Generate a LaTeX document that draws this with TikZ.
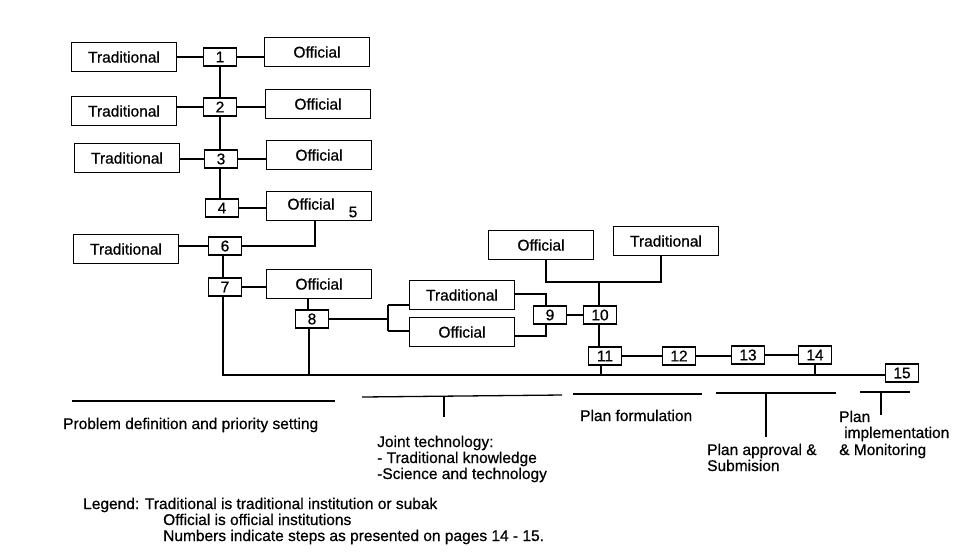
\documentclass[tikz,border=0pt]{standalone}
\usepackage{fontspec}
\setmainfont[FakeBold=0.7]{Liberation Sans}
\begin{document}
\begin{tikzpicture}[x=1pt,y=-1pt,
  inst/.style={draw, line width=1.3pt, minimum width=105pt, minimum height=29pt, inner sep=0pt, font=\fontsize{15.5}{16}\selectfont},
  num/.style={draw, line width=1.3pt, minimum width=33pt, minimum height=18pt, inner sep=0pt, font=\fontsize{15.5}{16}\selectfont},
  lbl/.style={inner sep=0pt, font=\fontsize{15.5}{16}\selectfont, align=left},
  conn/.style={line width=1.3pt},
  phase/.style={line width=1.3pt}]
\useasboundingbox (0,0) rectangle (971,558);
% institution boxes
\node[inst] (T1) at (124,57) {Traditional};
\node[inst] (O1) at (317,52) {Official};
\node[inst] (T2) at (124,111) {Traditional};
\node[inst] (O2) at (318,104) {Official};
\node[inst] (T3) at (127,158) {Traditional};
\node[inst] (O3) at (319,155) {Official};
\node[inst] (O4) at (319,206) {};
\node[lbl] (O4t) at (311,204) {Official};
\node[lbl] (s5) at (353,212) {5};
\node[inst] (T6) at (126,249) {Traditional};
\node[inst] (O7) at (319,284) {Official};
\node[inst] (T9) at (462,295) {Traditional};
\node[inst] (O9) at (462,332) {Official};
\node[inst] (O10) at (541,245) {Official};
\node[inst] (T10) at (666,241) {Traditional};
% step boxes
\node[num] (n1) at (220,57) {1};
\node[num] (n2) at (220,107) {2};
\node[num] (n3) at (221,159) {3};
\node[num] (n4) at (222,208) {4};
\node[num] (n6) at (225,246) {6};
\node[num] (n7) at (225,287) {7};
\node[num] (n8) at (312,319) {8};
\node[num] (n9) at (550,315) {9};
\node[num] (n10) at (600,315) {10};
\node[num] (n11) at (605,356) {11};
\node[num] (n12) at (679,356) {12};
\node[num] (n13) at (748,355) {13};
\node[num] (n14) at (815,355) {14};
\node[num] (n15) at (902,373) {15};
% connectors
\draw[conn] (T1.east |- n1.west) -- (n1.west);
\draw[conn] (n1.east) -- (n1.east -| O1.west);
\draw[conn] (T2.east |- n2.west) -- (n2.west);
\draw[conn] (n2.east) -- (n2.east -| O2.west);
\draw[conn] (T3.east |- n3.west) -- (n3.west);
\draw[conn] (n3.east) -- (n3.east -| O3.west);
\draw[conn] (n4.east) -- (n4.east -| O4.west);
\draw[conn] (n1.south) -- (n2.north);
\draw[conn] (n2.south) -- (n3.north -| n2.south);
\draw[conn] (n3.south -| n2.south) -- (n4.north -| n2.south);
\draw[conn] ([xshift=-4pt]O4.south) |- (n6.east);
\draw[conn] (T6.east |- n6.west) -- (n6.west);
\draw[conn] ([xshift=-2pt]n6.south) -- ([xshift=-2pt]n7.north);
\draw[conn] (n7.east) -- (n7.east -| O7.west);
\draw[conn] ([xshift=-11pt]O7.south) -- ([xshift=-4pt]n8.north);
\coordinate (bus) at (223,375);
\draw[conn] ([xshift=-2pt]n7.south) -- (bus) -- (bus -| n15.west);
\draw[conn] ([xshift=-3pt]n8.south) -- ([xshift=-3pt]n8.south |- bus);
\draw[conn] ([xshift=-4pt]n11.south) -- ([xshift=-4pt]n11.south |- bus);
\draw[conn] (n14.south) -- (n14.south |- bus);
% fork to 9
\coordinate (fk) at (388,319);
\draw[conn] (n8.east) -- (fk);
\draw[conn] (fk |- 0,305) -- (fk |- 0,331);
\draw[conn] (fk |- 0,305) -- (T9.west |- 0,305);
\draw[conn] (fk |- 0,331) -- (O9.west |- 0,331);
\draw[conn] (T9.east |- 0,294) -| ([xshift=-4pt]n9.north);
\draw[conn] (O9.east |- 0,336) -| ([xshift=-4pt]n9.south);
\draw[conn] (n9.east) -- (n10.west);
% to 10
\coordinate (j10) at (599,282);
\draw[conn] ([xshift=5pt]O10.south) |- (j10) -| ([xshift=-5pt]T10.south);
\draw[conn] (j10) -- (n10.north -| j10);
\draw[conn] (n10.south -| j10) -- (n11.north -| j10);
\draw[conn] (n11.east) -- (n11.east -| n12.west);
\draw[conn] (n12.east) -- (n12.east -| n13.west);
\draw[conn] (n13.east) -- (n13.east -| n14.west);
% phases
\draw[phase] (72,401) -- (335,401);
\node[lbl, anchor=base west] (p1) at (63,429) {Problem definition and priority setting};
\draw[phase] (362,397) -- (562,395);
\coordinate (t2) at (444,396);
\draw[phase] (t2) -- (444,417);
\node[lbl, anchor=base west] (p2a) at (377,447) {Joint technology:};
\node[lbl, anchor=base west] (p2b) at (377,463) {- Traditional knowledge};
\node[lbl, anchor=base west] (p2c) at (377,479) {-Science and technology};
\draw[phase] (573,394) -- (702,394);
\node[lbl, anchor=base west] (p3) at (580,421) {Plan formulation};
\draw[phase] (716,393) -- (836,393);
\draw[phase] (766,393) -- (766,437);
\node[lbl, anchor=base west] (p4a) at (707,455) {Plan approval \&};
\node[lbl, anchor=base west] (p4b) at (707,471) {Submision};
\draw[phase] (860,392) -- (910,392);
\draw[phase] (881,392) -- (881,415);
\node[lbl, anchor=base west] (p5a) at (839,422) {Plan};
\node[lbl, anchor=base west] (p5b) at (844,438) {implementation};
\node[lbl, anchor=base west] (p5c) at (839,455) {\& Monitoring};
% legend
\node[lbl, anchor=base west] (lg) at (83,509) {Legend: Traditional is traditional institution or subak};
\node[lbl, anchor=base west] (lg2) at (163,525) {Official is official institutions};
\node[lbl, anchor=base west] (lg3) at (163,541) {Numbers indicate steps as presented on pages 14 - 15.};
\end{tikzpicture}
\end{document}
